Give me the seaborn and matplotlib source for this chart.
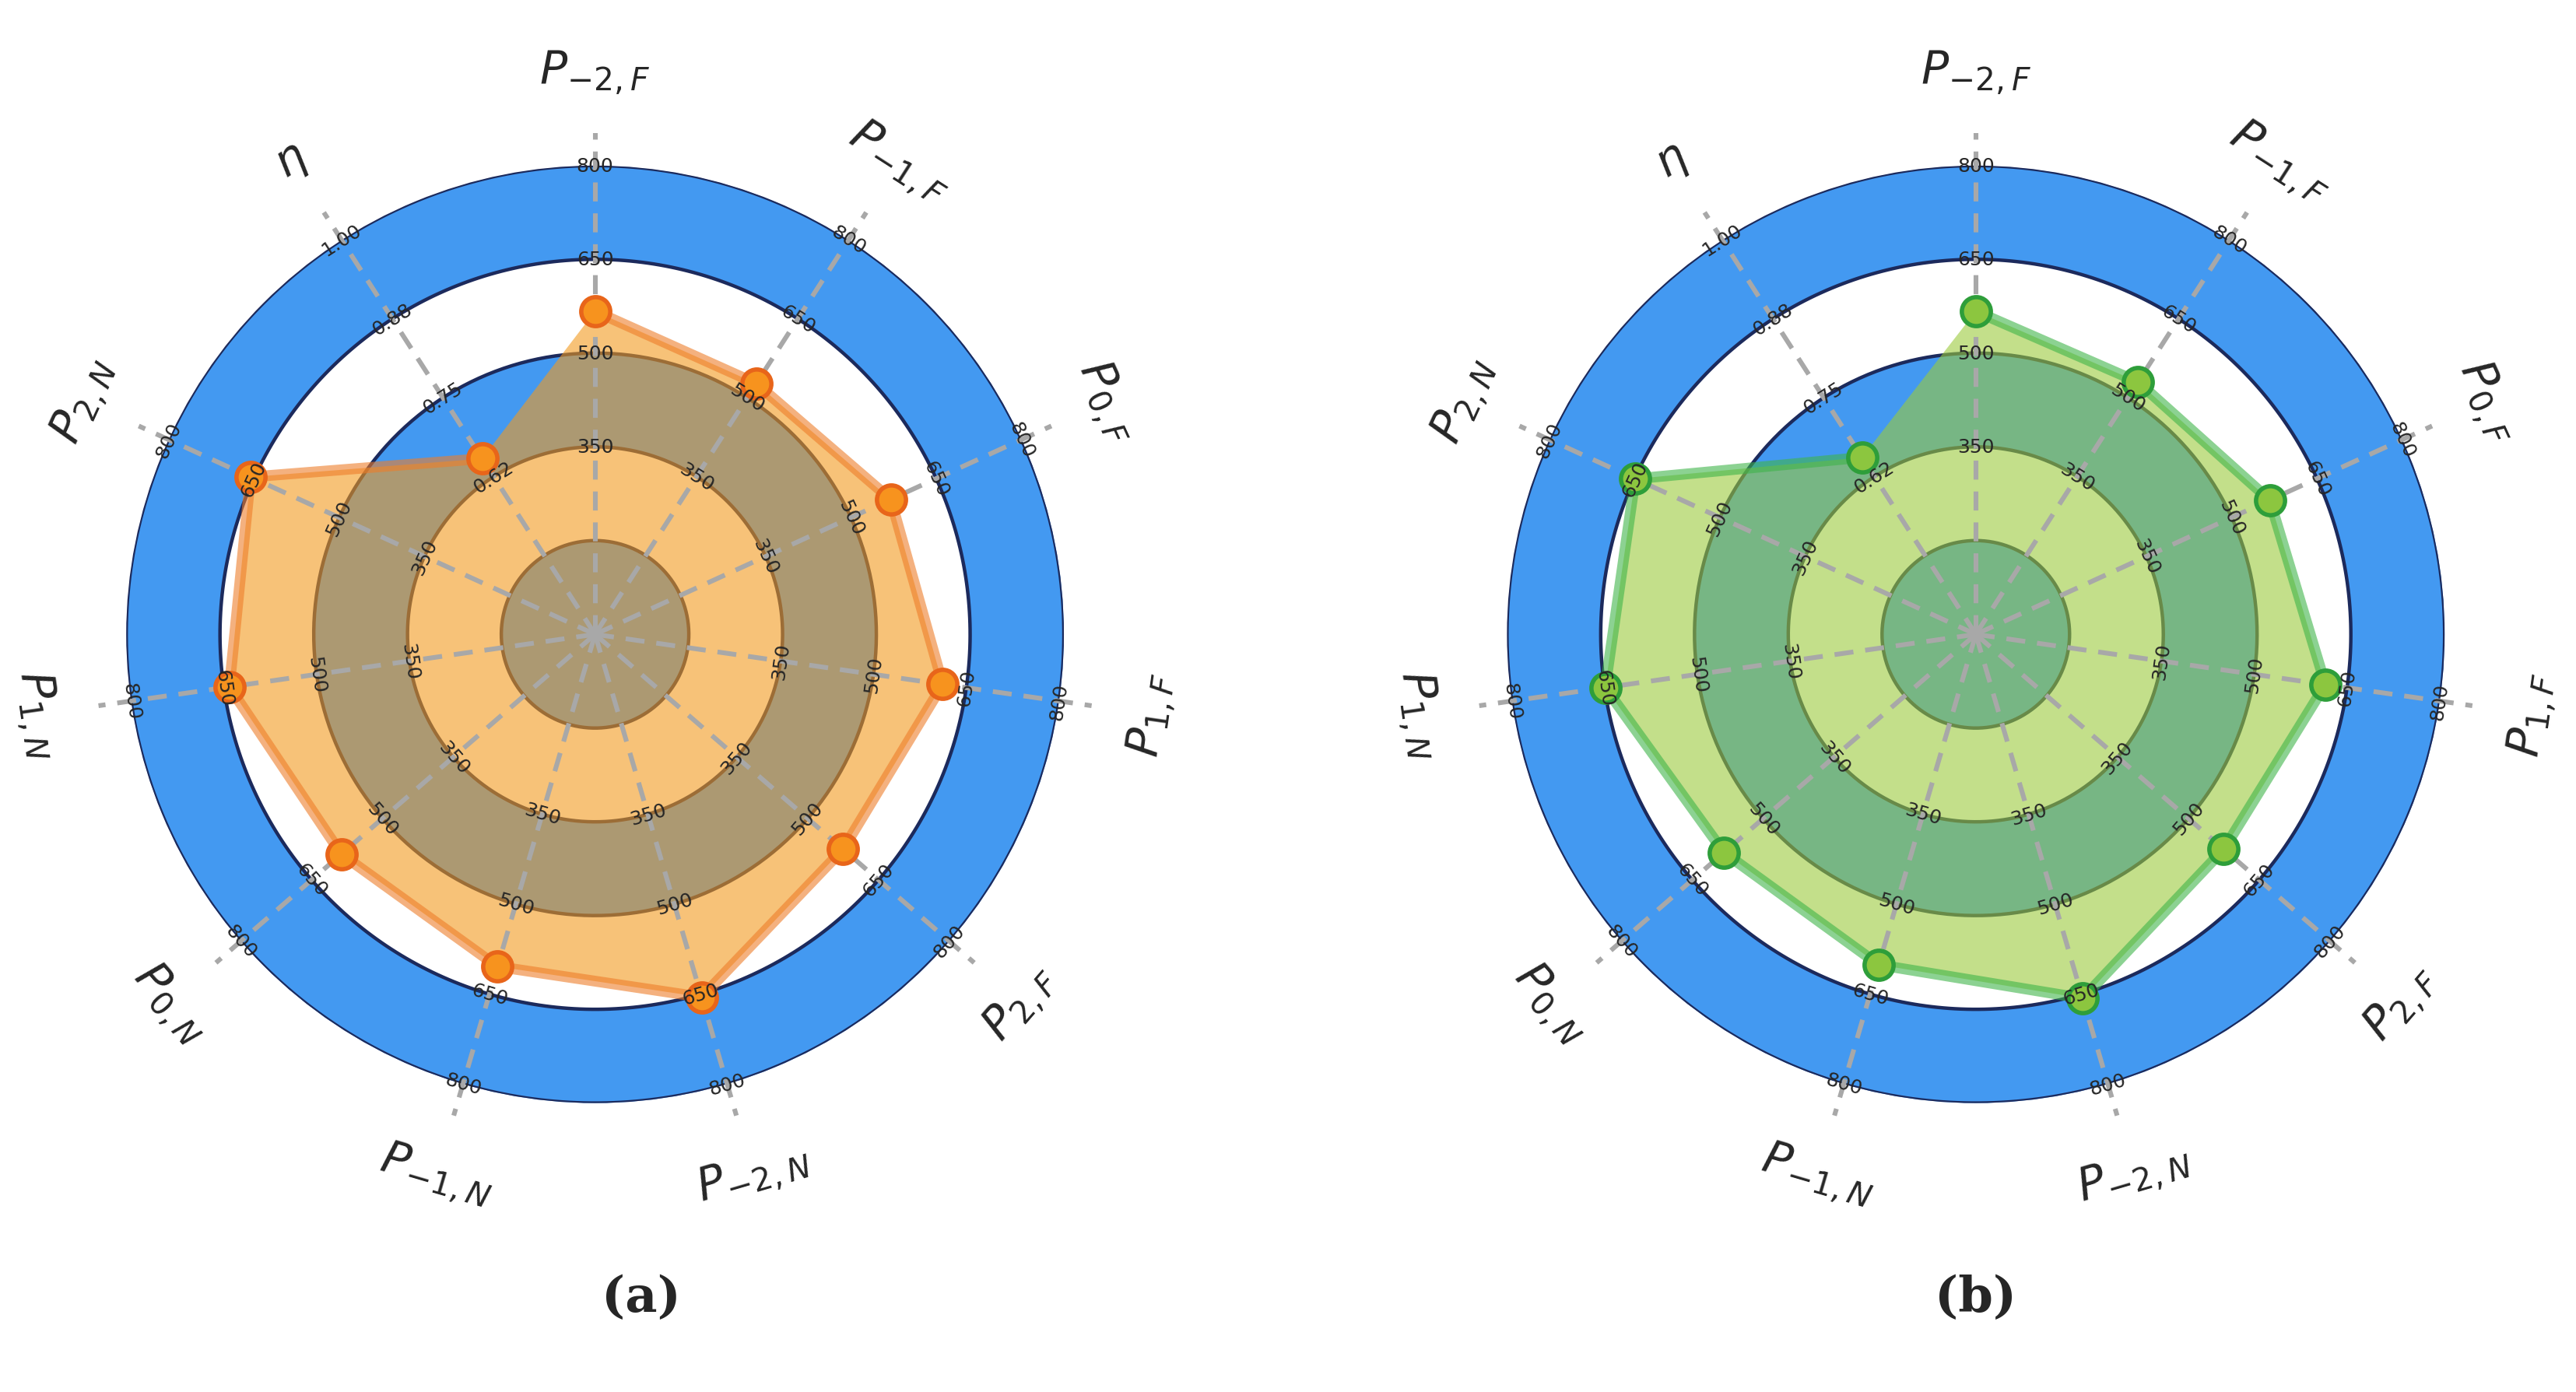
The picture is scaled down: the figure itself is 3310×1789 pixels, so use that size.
import numpy as np
import matplotlib
matplotlib.use("Agg")
import matplotlib.pyplot as plt
import seaborn as sns

# axes of the radar, clockwise from top
axis_labels = ['$P_{-2,F}$', '$P_{-1,F}$', '$P_{0,F}$', '$P_{1,F}$', '$P_{2,F}$',
               '$P_{-2,N}$', '$P_{-1,N}$', '$P_{0,N}$', '$P_{1,N}$', '$P_{2,N}$', '$\\eta$']
p_ticks = ['350', '500', '650', '800']
eta_ticks = ['0.62', '0.75', '0.88', '1.00']

# power values (first 10 axes) and efficiency (last axis)
p_vals_a = [567, 527, 570, 612, 575, 655, 604, 587, 641, 656]
eta_a = 0.649
p_vals_b = [567, 530, 567, 615, 575, 657, 601, 583, 649, 649]
eta_b = 0.651

# value range that maps onto radius 0..1
p_lo, p_hi = 50, 800
eta_lo, eta_hi = 0.367, 1.0

sns.set_style('white')
plt.rcParams['font.family'] = ['DejaVu Sans']

BLUE = '#4399f1'
NAVY = '#1c2a5c'


def normalise(pv, eta):
    r = [(v - p_lo) / (p_hi - p_lo) for v in pv]
    r.append((eta - eta_lo) / (eta_hi - eta_lo))
    return np.array(r)


def upright(rot):
    rot = (rot + 180) % 360 - 180
    if rot > 90:
        rot -= 180
    elif rot <= -90:
        rot += 180
    return rot


def radar(ax, pv, eta, fill, edge, mface, medge):
    n = len(axis_labels)
    theta = 2 * np.pi * np.arange(n) / n
    ax.set_theta_zero_location('N')
    ax.set_theta_direction(-1)
    ax.set_ylim(0, 1.0)
    ax.grid(False)
    ax.set_xticks([])
    ax.set_yticks([])
    ax.spines['polar'].set_visible(False)

    # blue bands
    tt = np.linspace(0, 2 * np.pi, 400)
    for r0, r1 in [(0, 0.2), (0.4, 0.6), (0.8, 1.0)]:
        ax.fill_between(tt, r0, r1, color=BLUE, zorder=1, lw=0)
        for rr in (r0, r1):
            if rr > 0:
                ax.plot(tt, np.full_like(tt, rr), color=NAVY, lw=1.6, zorder=1.5)

    # polygon
    r = normalise(pv, eta)
    th_c = np.append(theta, theta[0])
    r_c = np.append(r, r[0])
    ax.fill(th_c, r_c, color=fill, alpha=0.6, zorder=2, lw=0)
    sns.lineplot(x=th_c, y=r_c, sort=False, ax=ax, color=edge, lw=5, alpha=0.6, zorder=3)

    # spokes
    for t in theta:
        ax.plot([t, t], [0, 1.07], color='#a8a8a8', lw=2.2, ls=(0, (4, 2.5)), zorder=4,
                clip_on=False)

    sns.scatterplot(x=theta, y=r, ax=ax, s=180, color=mface, edgecolor=medge,
                    linewidth=2, zorder=5, clip_on=False)

    # tick labels along each spoke
    for i, t in enumerate(theta):
        deg = 90 - np.degrees(t)
        labs = eta_ticks if i == n - 1 else p_ticks
        for rr, lab in zip([0.4, 0.6, 0.8, 1.0], labs):
            ax.text(t, rr, lab, ha='center', va='center', fontsize=9,
                    rotation=upright(deg - 90), rotation_mode='anchor', zorder=6)
        ax.text(t, 1.2, axis_labels[i], ha='center', va='center', fontsize=21,
                rotation=upright(deg - 90), rotation_mode='anchor', clip_on=False)


fig = plt.figure(figsize=(16.55, 8.95), dpi=200)
ax_a = fig.add_axes([0.231 - 0.182, 0.544 - 0.337, 0.364, 0.674], projection='polar')
ax_b = fig.add_axes([0.767 - 0.182, 0.544 - 0.337, 0.364, 0.674], projection='polar')

radar(ax_a, p_vals_a, eta_a, '#f39a1e', '#ee7d2a', '#f7931e', '#e8651a')
radar(ax_b, p_vals_b, eta_b, '#9bcb3c', '#3fb44a', '#8cc63f', '#2e9e3a')

fig.text(0.249, 0.068, '(a)', ha='center', va='center', fontsize=23,
         fontweight='bold', family='DejaVu Serif')
fig.text(0.767, 0.068, '(b)', ha='center', va='center', fontsize=23,
         fontweight='bold', family='DejaVu Serif')

fig.savefig('out.png', dpi=200)
